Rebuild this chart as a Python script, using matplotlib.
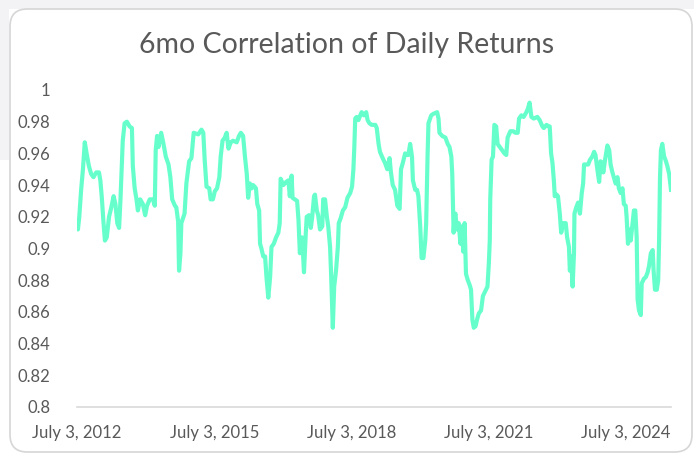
import matplotlib
matplotlib.use("Agg")
import matplotlib.pyplot as plt
from matplotlib.patches import FancyBboxPatch, Rectangle
import numpy as np
import pandas as pd

# decimal years and the 6-month rolling correlation
years = [
    2012.50, 2012.52, 2012.55, 2012.59, 2012.63, 2012.67, 2012.71, 2012.76, 2012.81, 2012.86,
    2012.92, 2012.98, 2013.01, 2013.04, 2013.08, 2013.11, 2013.15, 2013.20, 2013.25, 2013.30,
    2013.34, 2013.38, 2013.42, 2013.45, 2013.47, 2013.50, 2013.54, 2013.59, 2013.65, 2013.70,
    2013.72, 2013.76, 2013.80, 2013.83, 2013.88, 2013.94, 2013.99, 2014.03, 2014.09, 2014.16,
    2014.20, 2014.22, 2014.25, 2014.28, 2014.34, 2014.39, 2014.44, 2014.50, 2014.54, 2014.58,
    2014.64, 2014.67, 2014.71, 2014.73, 2014.76, 2014.78, 2014.85, 2014.89, 2014.95, 2015.00,
    2015.05, 2015.15, 2015.22, 2015.26, 2015.29, 2015.33, 2015.39, 2015.42, 2015.47, 2015.51,
    2015.56, 2015.61, 2015.64, 2015.68, 2015.73, 2015.77, 2015.81, 2015.86, 2015.91, 2015.99,
    2016.04, 2016.08, 2016.13, 2016.17, 2016.21, 2016.24, 2016.28, 2016.32, 2016.35, 2016.41,
    2016.44, 2016.48, 2016.50, 2016.53, 2016.57, 2016.61, 2016.64, 2016.68, 2016.72, 2016.75,
    2016.80, 2016.85, 2016.90, 2016.93, 2016.95, 2017.01, 2017.07, 2017.12, 2017.15, 2017.19,
    2017.21, 2017.26, 2017.31, 2017.34, 2017.37, 2017.42, 2017.46, 2017.50, 2017.52, 2017.57,
    2017.61, 2017.64, 2017.68, 2017.70, 2017.74, 2017.77, 2017.81, 2017.86, 2017.88, 2017.92,
    2017.96, 2017.99, 2018.03, 2018.05, 2018.09, 2018.12, 2018.16, 2018.20, 2018.22, 2018.26,
    2018.31, 2018.36, 2018.41, 2018.47, 2018.51, 2018.54, 2018.56, 2018.58, 2018.61, 2018.65,
    2018.69, 2018.72, 2018.77, 2018.82, 2018.85, 2018.89, 2018.94, 2019.02, 2019.05, 2019.09,
    2019.12, 2019.18, 2019.23, 2019.28, 2019.33, 2019.36, 2019.40, 2019.45, 2019.50, 2019.55,
    2019.58, 2019.62, 2019.67, 2019.71, 2019.74, 2019.78, 2019.82, 2019.84, 2019.89, 2019.93,
    2019.96, 2020.00, 2020.03, 2020.07, 2020.11, 2020.13, 2020.16, 2020.18, 2020.24, 2020.29,
    2020.37, 2020.40, 2020.42, 2020.48, 2020.55, 2020.60, 2020.64, 2020.68, 2020.70, 2020.72,
    2020.73, 2020.75, 2020.77, 2020.80, 2020.84, 2020.88, 2020.91, 2020.94, 2020.97, 2021.00,
    2021.04, 2021.08, 2021.11, 2021.14, 2021.17, 2021.21, 2021.24, 2021.28, 2021.33, 2021.37,
    2021.42, 2021.47, 2021.50, 2021.52, 2021.53, 2021.56, 2021.59, 2021.62, 2021.66, 2021.69,
    2021.74, 2021.79, 2021.84, 2021.88, 2021.91, 2021.97, 2022.03, 2022.08, 2022.13, 2022.16,
    2022.21, 2022.26, 2022.32, 2022.35, 2022.39, 2022.43, 2022.48, 2022.56, 2022.61, 2022.67,
    2022.70, 2022.76, 2022.81, 2022.83, 2022.86, 2022.89, 2022.92, 2022.94, 2022.98, 2023.01,
    2023.05, 2023.08, 2023.13, 2023.18, 2023.21, 2023.25, 2023.27, 2023.30, 2023.33, 2023.36,
    2023.37, 2023.41, 2023.45, 2023.49, 2023.53, 2023.56, 2023.58, 2023.63, 2023.67, 2023.71,
    2023.76, 2023.80, 2023.83, 2023.87, 2023.91, 2023.94, 2023.98, 2024.00, 2024.04, 2024.09,
    2024.13, 2024.16, 2024.20, 2024.23, 2024.27, 2024.31, 2024.34, 2024.38, 2024.42, 2024.45,
    2024.49, 2024.51, 2024.54, 2024.57, 2024.60, 2024.64, 2024.67, 2024.70, 2024.73, 2024.75,
    2024.78, 2024.82, 2024.84, 2024.89, 2024.93, 2024.97, 2025.00, 2025.04, 2025.08, 2025.10,
    2025.13, 2025.17, 2025.20, 2025.22, 2025.24, 2025.26, 2025.29, 2025.33, 2025.37, 2025.40,
    2025.44, 2025.48,
]
corr = [
    0.913, 0.912, 0.920, 0.937, 0.950, 0.967, 0.960, 0.952, 0.947, 0.945,
    0.948, 0.948, 0.943, 0.933, 0.916, 0.905, 0.907, 0.920, 0.926, 0.933,
    0.928, 0.916, 0.913, 0.931, 0.946, 0.968, 0.979, 0.980, 0.977, 0.976,
    0.952, 0.938, 0.931, 0.924, 0.931, 0.928, 0.921, 0.927, 0.931, 0.931,
    0.927, 0.962, 0.971, 0.964, 0.973, 0.966, 0.958, 0.953, 0.945, 0.931,
    0.927, 0.926, 0.917, 0.886, 0.897, 0.916, 0.922, 0.941, 0.955, 0.957,
    0.973, 0.972, 0.975, 0.973, 0.956, 0.939, 0.938, 0.931, 0.931, 0.936,
    0.938, 0.945, 0.958, 0.968, 0.970, 0.973, 0.963, 0.967, 0.968, 0.967,
    0.971, 0.973, 0.971, 0.958, 0.947, 0.932, 0.941, 0.938, 0.940, 0.938,
    0.928, 0.924, 0.903, 0.900, 0.895, 0.895, 0.882, 0.869, 0.882, 0.901,
    0.903, 0.907, 0.910, 0.916, 0.944, 0.940, 0.942, 0.943, 0.933, 0.946,
    0.932, 0.931, 0.930, 0.918, 0.897, 0.907, 0.885, 0.910, 0.920, 0.921,
    0.913, 0.920, 0.933, 0.934, 0.924, 0.921, 0.912, 0.914, 0.931, 0.931,
    0.920, 0.914, 0.901, 0.886, 0.850, 0.876, 0.886, 0.901, 0.916, 0.919,
    0.924, 0.926, 0.932, 0.935, 0.939, 0.950, 0.964, 0.982, 0.983, 0.981,
    0.984, 0.986, 0.984, 0.986, 0.981, 0.979, 0.978, 0.978, 0.976, 0.966,
    0.961, 0.957, 0.954, 0.950, 0.957, 0.948, 0.940, 0.937, 0.927, 0.925,
    0.950, 0.954, 0.960, 0.959, 0.959, 0.966, 0.958, 0.943, 0.937, 0.937,
    0.933, 0.914, 0.894, 0.894, 0.905, 0.916, 0.958, 0.979, 0.984, 0.985,
    0.986, 0.982, 0.973, 0.971, 0.970, 0.966, 0.964, 0.958, 0.947, 0.922,
    0.910, 0.920, 0.922, 0.912, 0.916, 0.903, 0.914, 0.898, 0.916, 0.884,
    0.880, 0.877, 0.874, 0.855, 0.850, 0.851, 0.855, 0.859, 0.861, 0.870,
    0.873, 0.876, 0.891, 0.905, 0.931, 0.956, 0.958, 0.978, 0.977, 0.966,
    0.964, 0.962, 0.960, 0.959, 0.970, 0.974, 0.974, 0.973, 0.973, 0.982,
    0.984, 0.983, 0.986, 0.988, 0.992, 0.983, 0.982, 0.983, 0.981, 0.977,
    0.976, 0.978, 0.977, 0.977, 0.960, 0.954, 0.943, 0.933, 0.934, 0.933,
    0.922, 0.910, 0.916, 0.916, 0.907, 0.901, 0.886, 0.895, 0.876, 0.897,
    0.922, 0.926, 0.929, 0.922, 0.935, 0.941, 0.953, 0.953, 0.953, 0.956,
    0.958, 0.961, 0.959, 0.950, 0.942, 0.955, 0.954, 0.948, 0.956, 0.965,
    0.962, 0.953, 0.948, 0.945, 0.941, 0.945, 0.938, 0.935, 0.938, 0.928,
    0.927, 0.920, 0.903, 0.912, 0.905, 0.916, 0.924, 0.924, 0.907, 0.868,
    0.861, 0.858, 0.878, 0.881, 0.882, 0.885, 0.889, 0.897, 0.899, 0.886,
    0.874, 0.874, 0.880, 0.905, 0.945, 0.962, 0.966, 0.958, 0.955, 0.952,
    0.947, 0.937,
]
tick_dates = ["2012-07-03", "2015-07-03", "2018-07-03", "2021-07-03", "2024-07-03"]
tick_labels = ["July 3, 2012", "July 3, 2015", "July 3, 2018", "July 3, 2021", "July 3, 2024"]

start = pd.Timestamp("2012-07-03")
dates = [start + pd.Timedelta(days=(y - 2012.5) * 365.25) for y in years]

plt.rcParams['font.family'] = ['Lato', 'DejaVu Sans']
grey = '#595959'

fig = plt.figure(figsize=(6.94, 4.55), dpi=100)
fig.patch.set_facecolor('white')

# screenshot surround: grey margin and rounded chart frame
fig.patches.append(Rectangle((0, 1 - 9 / 455), 1, 9 / 455, transform=fig.transFigure,
                             facecolor='#f3f3f5', edgecolor='none', zorder=-3))
fig.patches.append(Rectangle((0, 1 - 160 / 455), 9 / 694, 160 / 455, transform=fig.transFigure,
                             facecolor='#f3f3f5', edgecolor='none', zorder=-3))
fig.patches.append(FancyBboxPatch((10 / 694, 3 / 455), 682 / 694, 443 / 455,
                                  boxstyle="round,pad=0,rounding_size=0.025",
                                  transform=fig.transFigure, facecolor='white',
                                  edgecolor='#d6d6d6', linewidth=1.2, zorder=-2,
                                  mutation_aspect=694 / 455))

ax = fig.add_axes([77 / 694, 1 - 407 / 455, 594 / 694, 317 / 455])
ax.set_zorder(2)
ax.set_facecolor('none')
ax.plot(dates, corr, color='#66FFCC', linewidth=3, solid_joinstyle='round')

ax.set_ylim(0.8, 1.0)
ax.set_xlim(dates[0], dates[-1])
ax.set_yticks(np.arange(0.8, 1.001, 0.02))
ax.set_yticklabels(["0.8", "0.82", "0.84", "0.86", "0.88", "0.9", "0.92",
                    "0.94", "0.96", "0.98", "1"])
ax.set_xticks([pd.Timestamp(d) for d in tick_dates])
ax.set_xticklabels(tick_labels)

for s in ['top', 'right', 'left']:
    ax.spines[s].set_visible(False)
ax.spines['bottom'].set_color('#d9d9d9')
ax.spines['bottom'].set_linewidth(1.2)
ax.tick_params(axis='both', length=0, labelcolor=grey, labelsize=12)
ax.tick_params(axis='y', pad=19)
ax.tick_params(axis='x', pad=13)

fig.text(0.5, 1 - 45 / 455, "6mo Correlation of Daily Returns", ha='center', va='center',
         fontsize=20.5, color=grey)

fig.savefig("out.png", dpi=100)
